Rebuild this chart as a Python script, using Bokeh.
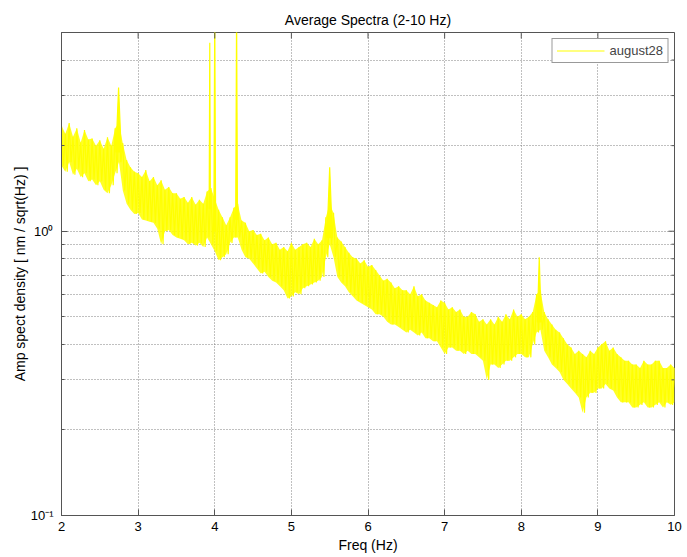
import math
from bokeh.plotting import figure
from bokeh.models import FixedTicker, Range1d, Legend, LegendItem, ColumnDataSource
from bokeh.embed import file_html
from bokeh.resources import INLINE

# ---- data (Hz, nm/sqrt(Hz)) ----
freq = [round(2 + 0.05 * i, 2) for i in range(161)]
# upper / lower excursions of the noisy spectrum (narrow lines listed separately)
amp_hi = [
    2.35, 2.20, 2.40, 2.15, 2.30, 2.05, 2.27, 2.10, 2.12, 2.00,
    2.09, 1.95, 2.14, 2.00, 2.30, 2.40, 2.04, 1.78, 1.68, 1.62,
    1.60, 1.55, 1.64, 1.50, 1.55, 1.45, 1.51, 1.40, 1.43, 1.36,
    1.36, 1.30, 1.32, 1.26, 1.32, 1.24, 1.29, 1.25, 1.38, 1.42,
    1.30, 1.19, 1.12, 1.05, 1.12, 1.21, 1.25, 1.09, 1.07, 1.00,
    1.01, 0.97, 0.98, 0.93, 0.95, 0.90, 0.91, 0.86, 0.88, 0.85,
    0.91, 0.86, 0.88, 0.90, 0.91, 0.88, 0.94, 0.90, 0.93, 1.12,
    1.25, 1.16, 0.95, 0.92, 0.88, 0.84, 0.81, 0.80, 0.77, 0.79,
    0.75, 0.76, 0.73, 0.70, 0.67, 0.68, 0.66, 0.63, 0.64, 0.62,
    0.62, 0.60, 0.64, 0.59, 0.60, 0.57, 0.56, 0.55, 0.54, 0.57,
    0.56, 0.53, 0.54, 0.52, 0.53, 0.50, 0.50, 0.52, 0.51, 0.48,
    0.49, 0.47, 0.49, 0.47, 0.50, 0.48, 0.51, 0.49, 0.53, 0.50,
    0.51, 0.49, 0.50, 0.52, 0.60, 0.62, 0.52, 0.49, 0.47, 0.45,
    0.44, 0.42, 0.40, 0.39, 0.37, 0.38, 0.37, 0.36, 0.38, 0.37,
    0.39, 0.40, 0.41, 0.38, 0.39, 0.37, 0.36, 0.35, 0.35, 0.34,
    0.34, 0.33, 0.35, 0.34, 0.34, 0.35, 0.35, 0.33, 0.33, 0.34,
    0.33,
]
amp_lo = [
    1.70, 1.62, 1.75, 1.58, 1.66, 1.55, 1.60, 1.50, 1.52, 1.45,
    1.50, 1.40, 1.36, 1.45, 1.60, 1.75, 1.39, 1.25, 1.19, 1.15,
    1.16, 1.10, 1.09, 1.08, 1.07, 1.02, 0.90, 1.00, 1.01, 0.97,
    0.95, 0.94, 0.93, 0.90, 0.91, 0.89, 0.91, 0.88, 0.95, 0.90,
    0.85, 0.79, 0.81, 0.83, 0.91, 0.95, 0.95, 0.86, 0.81, 0.80,
    0.77, 0.74, 0.71, 0.72, 0.69, 0.67, 0.66, 0.64, 0.62, 0.58,
    0.59, 0.61, 0.60, 0.63, 0.64, 0.65, 0.66, 0.67, 0.69, 0.81,
    0.90, 0.81, 0.69, 0.66, 0.64, 0.61, 0.59, 0.57, 0.56, 0.55,
    0.54, 0.53, 0.51, 0.51, 0.50, 0.48, 0.47, 0.47, 0.46, 0.45,
    0.44, 0.45, 0.44, 0.43, 0.44, 0.42, 0.42, 0.41, 0.41, 0.39,
    0.37, 0.39, 0.39, 0.38, 0.38, 0.37, 0.38, 0.37, 0.37, 0.36,
    0.35, 0.30, 0.34, 0.34, 0.33, 0.34, 0.35, 0.35, 0.36, 0.37,
    0.37, 0.36, 0.36, 0.40, 0.44, 0.45, 0.38, 0.36, 0.34, 0.33,
    0.32, 0.30, 0.29, 0.28, 0.27, 0.26, 0.23, 0.26, 0.27, 0.27,
    0.28, 0.28, 0.29, 0.28, 0.275, 0.26, 0.25, 0.25, 0.25, 0.24,
    0.24, 0.245, 0.25, 0.24, 0.24, 0.245, 0.25, 0.24, 0.25, 0.245,
    0.25,
]
# narrow spectral lines: centre, top, base level, half-width at base
peak_freq = [2.745, 3.935, 4.00, 4.285, 5.50, 8.235]
peak_top = [3.2, 4.6, 6.0, 6.0, 1.68, 0.81]
peak_base = [1.9, 1.2, 1.0, 1.1, 0.95, 0.48]
peak_halfwidth = [0.035, 0.008, 0.012, 0.012, 0.035, 0.025]

x_ticks = [2, 3, 4, 5, 6, 7, 8, 9, 10]
y_major = [0.1, 1]
y_minor = [0.2, 0.3, 0.4, 0.5, 0.6, 0.7, 0.8, 0.9, 2, 3, 4, 5]
y_labels = {0.1: "10⁻¹", 1: "10⁰"}
series_name = "august28"

YELLOW = "#ffff00"
AXC = "#555555"

# zig-zag trace between the read upper and lower excursions
xs, ys = [], []
half = 0.025
for f, h, l in zip(freq, amp_hi, amp_lo):
    xs += [f, f + half]
    ys += [h, l]
src = ColumnDataSource(dict(x=xs, y=ys))
band = ColumnDataSource(dict(x=freq, hi=amp_hi, lo=amp_lo))
pk_xs = [[f - w, f, f + w] for f, w in zip(peak_freq, peak_halfwidth)]
pk_ys = [[b, t, b] for t, b in zip(peak_top, peak_base)]

FONT = "Liberation Sans"
p = figure(width=687, height=557, output_backend="svg", toolbar_location=None,
           y_axis_type="log", x_range=Range1d(2, 10), y_range=Range1d(0.1, 5),
           frame_width=613, frame_height=483,
           min_border_left=61, min_border_right=13, min_border_top=32, min_border_bottom=42,
           title="Average Spectra (2-10 Hz)")
p.background_fill_color = "white"
p.border_fill_color = "white"
p.outline_line_color = AXC
p.title.align = "center"
p.title.text_font = FONT
p.title.text_font_size = "14px"
p.title.text_font_style = "normal"
p.title.text_color = "black"

p.varea(x="x", y1="lo", y2="hi", source=band, fill_color=YELLOW, fill_alpha=0.85)
r = p.line("x", "y", source=src, line_color=YELLOW, line_width=1.2)
p.patches(pk_xs, pk_ys, fill_color=YELLOW, line_color=YELLOW, line_width=1.2)

xt = FixedTicker(ticks=x_ticks, minor_ticks=[])
yt = FixedTicker(ticks=y_major, minor_ticks=y_minor)

for ax in (p.xaxis[0], p.yaxis[0]):
    ax.major_tick_in = 6
    ax.major_tick_out = 0
    ax.minor_tick_in = 3
    ax.minor_tick_out = 0
    ax.axis_line_color = AXC
    ax.major_tick_line_color = AXC
    ax.minor_tick_line_color = AXC
    ax.major_label_text_font = FONT
    ax.major_label_text_font_size = "13px"
    ax.major_label_text_color = "black"
    ax.axis_label_text_font = FONT
    ax.axis_label_text_font_size = "14px"
    ax.axis_label_text_font_style = "normal"
    ax.axis_label_text_color = "black"
p.xaxis[0].ticker = xt
p.yaxis[0].ticker = yt
p.yaxis[0].major_label_overrides = y_labels
p.xaxis[0].axis_label = "Freq (Hz)"
p.yaxis[0].axis_label = "Amp spect density [ nm / sqrt(Hz) ]"
p.xaxis[0].major_label_standoff = 6
p.xaxis[0].axis_label_standoff = 3
p.yaxis[0].major_label_standoff = 8
p.yaxis[0].axis_label_standoff = 0

# tick marks on the top and right edges of the box
top_y = [5] * len(x_ticks)
p.ray(x=x_ticks, y=top_y, length=6, length_units="screen", angle=-math.pi / 2,
      line_color=AXC, line_width=1)
right_x = [10] * len(y_major)
p.ray(x=right_x, y=y_major, length=6, length_units="screen", angle=math.pi,
      line_color=AXC, line_width=1)
right_xm = [10] * len(y_minor)
p.ray(x=right_xm, y=y_minor, length=3, length_units="screen", angle=math.pi,
      line_color=AXC, line_width=1)

p.xgrid.ticker = xt
p.ygrid.ticker = yt
for g in (p.xgrid[0], p.ygrid[0]):
    g.grid_line_color = "#808080"
    g.grid_line_dash = "1 2"
    g.grid_line_width = 1
p.ygrid[0].minor_grid_line_color = "#808080"
p.ygrid[0].minor_grid_line_dash = "1 2"

legend = Legend(items=[LegendItem(label=series_name, renderers=[r])],
                location="top_right", margin=6, padding=4, spacing=0,
                glyph_width=48, glyph_height=15, label_standoff=5,
                label_text_font=FONT, label_text_font_size="13px",
                border_line_color="#333333", background_fill_color="white",
                background_fill_alpha=1.0)
p.add_layout(legend, "center")

open("out.html", "w").write(file_html(p, INLINE))
